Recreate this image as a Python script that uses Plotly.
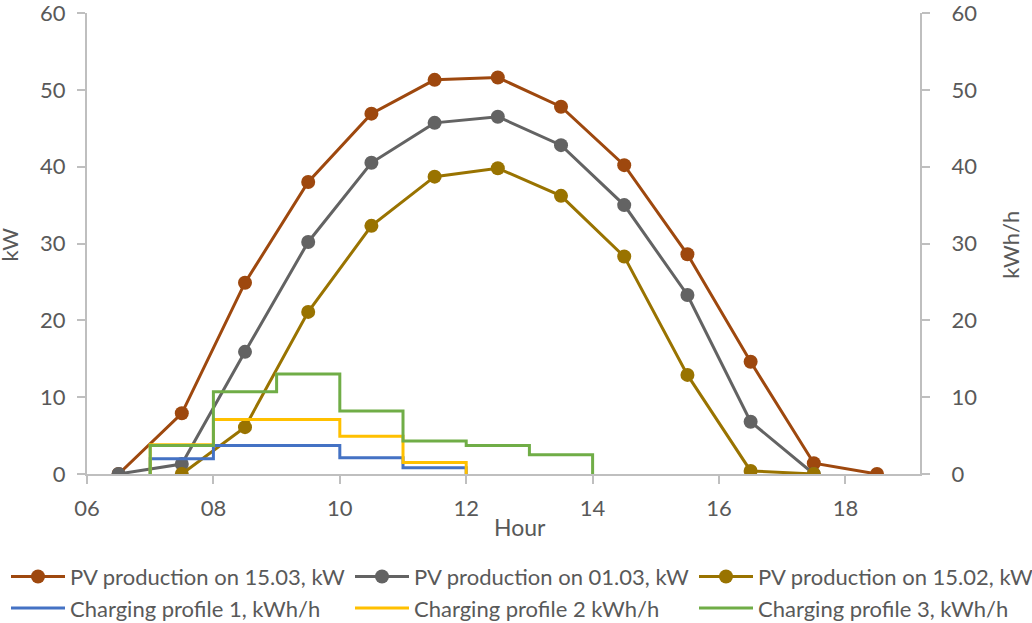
import plotly.graph_objects as go

# PV production, sampled at half-past each hour
hours_pv = [6.5, 7.5, 8.5, 9.5, 10.5, 11.5, 12.5, 13.5, 14.5, 15.5, 16.5, 17.5, 18.5]
pv_1503 = [0, 7.9, 24.9, 38.0, 46.9, 51.3, 51.6, 47.8, 40.2, 28.6, 14.6, 1.4, 0]
pv_0103 = [0, 1.3, 15.9, 30.2, 40.5, 45.7, 46.5, 42.8, 35.0, 23.3, 6.8, 0, None]
pv_1502 = [None, 0, 6.1, 21.1, 32.3, 38.7, 39.8, 36.2, 28.3, 12.9, 0.4, 0, None]

# Charging profiles: hourly energy, starting at 07:00
hours_p1 = [7, 8, 9, 10, 11]
profile_1 = [2.0, 3.7, 3.7, 2.1, 0.8]
hours_p2 = [7, 8, 9, 10, 11]
profile_2 = [3.8, 7.1, 7.1, 4.9, 1.5]
hours_p3 = [7, 8, 9, 10, 11, 12, 13]
profile_3 = [3.7, 10.7, 13.0, 8.2, 4.3, 3.7, 2.5]

x_ticks = [6, 8, 10, 12, 14, 16, 18]
x_ticktext = ["06", "08", "10", "12", "14", "16", "18"]
y_ticks = [0, 10, 20, 30, 40, 50, 60]

X_RANGE = [6, 19.18]
Y_RANGE = [0, 60]

FONT = "Lato"
TXT = "#595959"
AX = "#BFBFBF"


def step_xy(hours, vals):
    # hourly blocks drawn as a step curve that rises from and returns to zero
    xs = [hours[0]] + list(hours) + [hours[-1] + 1]
    ys = [0] + list(vals) + [0]
    return xs, ys


fig = go.Figure()

# each legend column holds one PV curve above one charging profile
pv_series = [
    ("PV production on 15.03, kW", pv_1503, "#9E480E", "legend"),
    ("PV production on 01.03, kW", pv_0103, "#636363", "legend2"),
    ("PV production on 15.02, kW", pv_1502, "#997300", "legend3"),
]
for name, vals, col, lg in pv_series:
    fig.add_trace(go.Scatter(
        x=hours_pv, y=vals, name=name, mode="lines+markers",
        line=dict(color=col, width=3),
        marker=dict(color=col, size=14),
        connectgaps=False, legend=lg,
    ))

profiles = [
    ("Charging profile 1, kWh/h", hours_p1, profile_1, "#4472C4", "legend"),
    ("Charging profile 2 kWh/h", hours_p2, profile_2, "#FFC000", "legend2"),
    ("Charging profile 3, kWh/h", hours_p3, profile_3, "#70AD47", "legend3"),
]
for name, hrs, vals, col, lg in profiles:
    xs, ys = step_xy(hrs, vals)
    fig.add_trace(go.Scatter(
        x=xs, y=ys, name=name, mode="lines", yaxis="y2",
        line=dict(color=col, width=3, shape="hv"), legend=lg,
    ))

axis_common = dict(
    showgrid=False, zeroline=False, showline=True, linecolor=AX, linewidth=2,
    ticks="outside", ticklen=8, tickcolor=AX, tickwidth=1.5,
    automargin=False, ticklabeloverflow="allow",
    tickfont=dict(size=22, color=TXT),
)
# inner half of the crossing tick marks
inner_ticks = dict(
    showgrid=False, zeroline=False, showline=False, showticklabels=False,
    ticks="inside", ticklen=7, tickcolor=AX, tickwidth=1.5, automargin=False,
)


def legend_column(x_px):
    return dict(
        orientation="v", xref="container", yref="container",
        x=x_px / 1032, xanchor="left", y=0.108, yanchor="top",
        font=dict(family=FONT, size=22, color=TXT),
        tracegroupgap=0, itemwidth=54, bgcolor="rgba(0,0,0,0)",
    )


def axis_label(text, x, y, angle=0, size=22):
    return dict(
        text=text, xref="paper", yref="paper", x=x, y=y,
        xanchor="center", yanchor="middle", showarrow=False,
        textangle=angle, font=dict(size=size, color=TXT),
    )


fig.update_layout(
    width=1032, height=623,
    margin=dict(l=87, r=112, t=13, b=149, autoexpand=False),
    paper_bgcolor="white", plot_bgcolor="white",
    font=dict(family=FONT, size=22, color=TXT),
    showlegend=True,
    legend=legend_column(6),
    legend2=legend_column(350),
    legend3=legend_column(694),
    xaxis=dict(
        range=X_RANGE, tickvals=x_ticks, ticktext=x_ticktext,
        ticklabelstandoff=6,
        **axis_common,
    ),
    yaxis=dict(
        range=Y_RANGE, tickvals=y_ticks,
        ticklabelstandoff=7,
        **axis_common,
    ),
    yaxis2=dict(
        range=Y_RANGE, tickvals=y_ticks, overlaying="y", side="right",
        ticklabelstandoff=17,
        **axis_common,
    ),
    xaxis2=dict(range=X_RANGE, tickvals=x_ticks, overlaying="x", side="bottom",
                anchor="y", **inner_ticks),
    yaxis3=dict(range=Y_RANGE, tickvals=y_ticks, overlaying="y", side="left",
                anchor="x", **inner_ticks),
    annotations=[
        axis_label("Hour", 0.52, -0.115, size=23),
        axis_label("kW", -0.093, 0.497, angle=-90),
        axis_label("kWh/h", 1.109, 0.497, angle=-90),
    ],
)

fig.write_html("out.html")
